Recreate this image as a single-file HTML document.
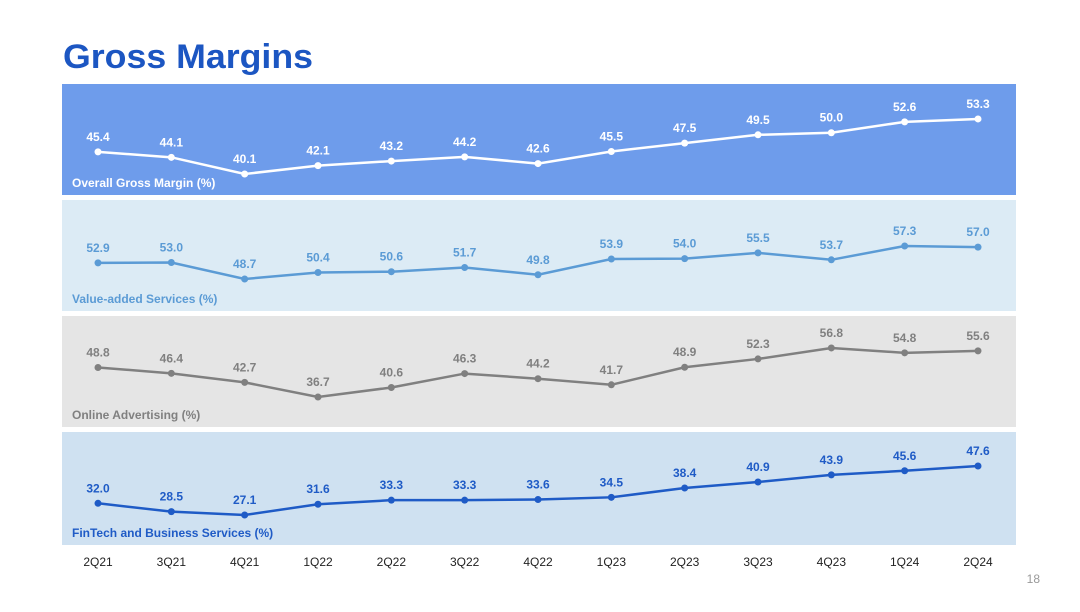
<!DOCTYPE html>
<html><head><meta charset="utf-8"><style>
body{margin:0;background:#fff;width:1080px;height:607px;overflow:hidden;font-family:"Liberation Sans",Arial,sans-serif}
</style></head><body>
<svg width="1080" height="607" id="c" xmlns="http://www.w3.org/2000/svg">
<text x="63" y="68" font-size="34" font-weight="bold" fill="#1c56c2" textLength="250" lengthAdjust="spacingAndGlyphs">Gross Margins</text>
<text x="1040" y="583" font-size="12" fill="#999" text-anchor="end">18</text>
</svg>
<script>
const categories=["2Q21","3Q21","4Q21","1Q22","2Q22","3Q22","4Q22","1Q23","2Q23","3Q23","4Q23","1Q24","2Q24"];
const overall=[45.4,44.1,40.1,42.1,43.2,44.2,42.6,45.5,47.5,49.5,50.0,52.6,53.3];
const vas=[52.9,53.0,48.7,50.4,50.6,51.7,49.8,53.9,54.0,55.5,53.7,57.3,57.0];
const ads=[48.8,46.4,42.7,36.7,40.6,46.3,44.2,41.7,48.9,52.3,56.8,54.8,55.6];
const fintech=[32.0,28.5,27.1,31.6,33.3,33.3,33.6,34.5,38.4,40.9,43.9,45.6,47.6];
const panels=[
 {name:"overall",title:"Overall Gross Margin (%)",data:overall,top:84,h:111,bg:"#6e9ceb",line:"#ffffff",lbl:"#ffffff",tc:"#ffffff",ref:40.1,refY:174,k:4.17},
 {name:"value-added-services",title:"Value-added Services (%)",data:vas,top:200,h:111,bg:"#dcebf5",line:"#5b9bd5",lbl:"#5b9bd5",tc:"#5b9bd5",ref:48.7,refY:279,k:3.84},
 {name:"online-advertising",title:"Online Advertising (%)",data:ads,top:316,h:111,bg:"#e5e5e5",line:"#808080",lbl:"#808080",tc:"#808080",ref:36.7,refY:397,k:2.44},
 {name:"fintech",title:"FinTech and Business Services (%)",data:fintech,top:432,h:113,bg:"#cfe1f1",line:"#1f5bc6",lbl:"#1f5bc6",tc:"#1f5bc6",ref:27.1,refY:515,k:2.39}
];
const svg=document.getElementById('c');const NS="http://www.w3.org/2000/svg";
function xs(i){return 98+i*(978-98)/(categories.length-1);}
function mk(t,a){const e=document.createElementNS(NS,t);for(const k in a)e.setAttribute(k,a[k]);svg.appendChild(e);return e;}
panels.forEach(p=>{
 const ys=v=>p.refY-(v-p.ref)*p.k;
 const r=mk('rect',{x:62,y:p.top,width:954,height:p.h,fill:p.bg});
 
 
 const pts=p.data.map((v,i)=>xs(i)+','+ys(v)).join(' ');
 const pl=mk('polyline',{points:pts,fill:'none',stroke:p.line,'stroke-width':2.5});
 
 
 p.data.forEach((v,i)=>{
  const c=mk('circle',{cx:xs(i),cy:ys(v),r:3.5,fill:p.line});
  
  
  const t=mk('text',{x:xs(i),y:ys(v)-11,'text-anchor':'middle','font-size':12,'font-weight':'bold',fill:p.lbl});
  t.textContent=v.toFixed(1);
  
  
 });
 const tt=mk('text',{x:72,y:p.top+p.h-8,'font-size':12,'font-weight':'bold',fill:p.tc});
 tt.textContent=p.title;
 
 
});
categories.forEach((c,i)=>{
 const t=mk('text',{x:xs(i),y:566,'text-anchor':'middle','font-size':12,fill:'#222'});
 t.textContent=c;
 
 
});
</script>
</body></html>
